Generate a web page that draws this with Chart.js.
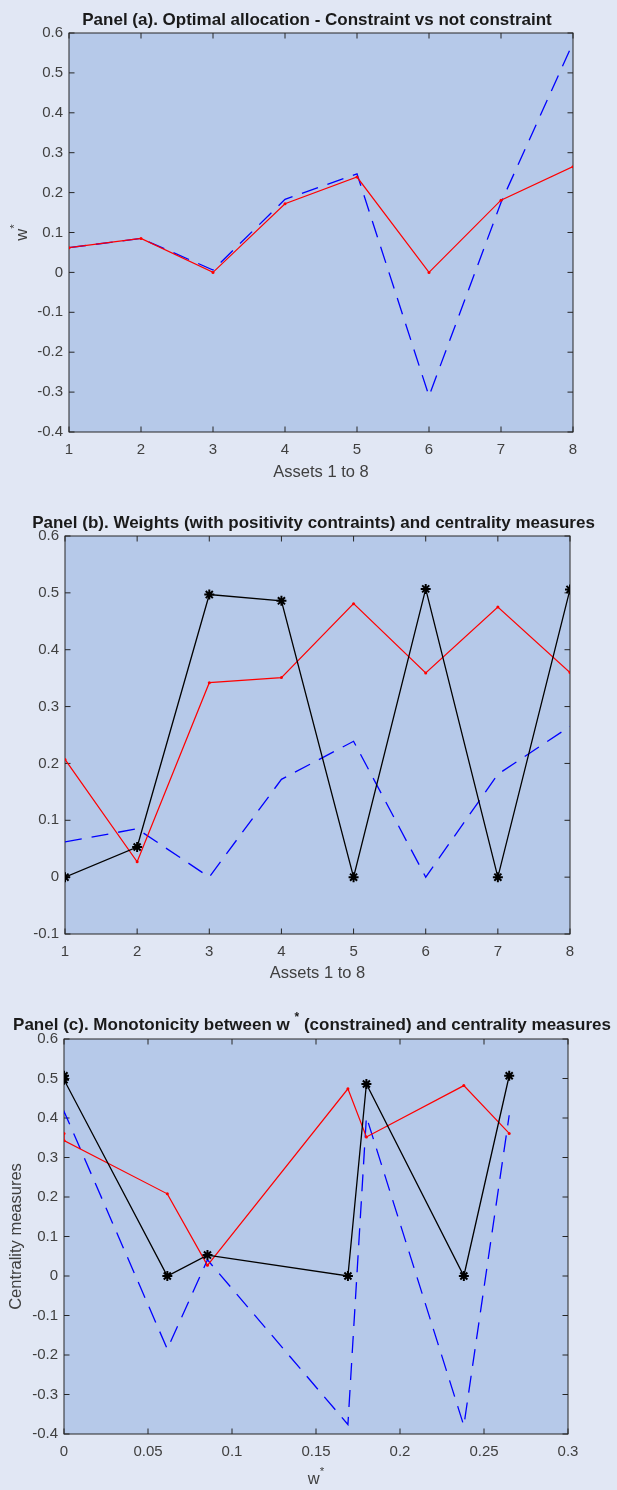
<!DOCTYPE html>
<html>
<head>
<meta charset="utf-8">
<script src="https://cdn.jsdelivr.net/npm/chart.js@4.4.0/dist/chart.umd.min.js"></script>
<style>
  body { margin: 0; background: #e1e7f4; }
  canvas { display: block; }
</style>
</head>
<body>
<canvas id="panelA" width="617" height="495"></canvas>
<canvas id="panelB" width="617" height="495"></canvas>
<canvas id="panelC" width="617" height="500"></canvas>
<script>
// values
const assets = [1, 2, 3, 4, 5, 6, 7, 8];
const wFree = [0.062, 0.085, 0.006, 0.183, 0.247, -0.31, 0.175, 0.575];
const wPos = [0.062, 0.085, 0, 0.172, 0.239, 0, 0.181, 0.265];
const centRed = [0.207, 0.027, 0.342, 0.351, 0.481, 0.359, 0.475, 0.360];
const centBlack = [0, 0.053, 0.497, 0.486, 0, 0.507, 0, 0.506];

// panel (c), points in plotting order
const wSorted = [0, 0, 0.0615, 0.0854, 0.169, 0.180, 0.238, 0.265];
const sortedRed = [0.361, 0.343, 0.208, 0.027, 0.474, 0.352, 0.482, 0.361];
const sortedBlack = [0.507, 0.497, 0, 0.053, 0, 0.486, 0, 0.507];
const sortedBlue = [0.41, 0.417, -0.185, 0.041, -0.376, 0.403, -0.379, 0.407];

// axis ranges: [min, max, step]
const xRangeAssets = [1, 8, 1];
const xRangeW = [0, 0.3, 0.05];
const yRangeA = [-0.4, 0.6, 0.1];
const yRangeB = [-0.1, 0.6, 0.1];
const yRangeC = [-0.4, 0.6, 0.1];

const FONT = "'Liberation Sans', Arial, Helvetica, sans-serif";
const TICK_COLOR = '#404040';

function pts(xs, ys) {
  return xs.map((x, i) => ({ x: x, y: ys[i] }));
}

// matlab style labels: 0, 0.05, 0.1, -0.4
function tickText(v) {
  const r = Math.round(v * 10000) / 10000;
  return (r === 0 ? 0 : r).toString();
}

// draws a string made of parts, some of them superscript, centred on (cx, cy)
function drawRich(ctx, parts, cx, cy, size, weight, color) {
  ctx.save();
  ctx.fillStyle = color;
  ctx.textBaseline = 'middle';
  ctx.textAlign = 'left';
  let total = 0;
  parts.forEach(p => {
    ctx.font = weight + ' ' + (p.sup ? size * 0.7 : size) + 'px ' + FONT;
    p.w = ctx.measureText(p.t).width;
    total += p.w;
  });
  let x = cx - total / 2;
  parts.forEach(p => {
    ctx.font = weight + ' ' + (p.sup ? size * 0.7 : size) + 'px ' + FONT;
    ctx.fillText(p.t, x, p.sup ? cy - size * 0.45 : cy);
    x += p.w;
  });
  ctx.restore();
}

const framePlugin = {
  id: 'frame',
  beforeDraw(chart) {
    const ctx = chart.ctx;
    const a = chart.chartArea;
    ctx.save();
    ctx.fillStyle = '#e1e7f4';
    ctx.fillRect(0, 0, chart.width, chart.height);
    ctx.fillStyle = '#b6c9e9';
    ctx.fillRect(a.left, a.top, a.right - a.left, a.bottom - a.top);
    ctx.restore();
  },
  beforeDatasetsDraw(chart) {
    const ctx = chart.ctx;
    const a = chart.chartArea;
    const len = 5.5;
    ctx.save();
    ctx.strokeStyle = '#262626';
    ctx.lineWidth = 1;
    ctx.beginPath();
    chart.scales.x.ticks.forEach(t => {
      const px = chart.scales.x.getPixelForValue(t.value);
      ctx.moveTo(px, a.bottom); ctx.lineTo(px, a.bottom - len);
      ctx.moveTo(px, a.top); ctx.lineTo(px, a.top + len);
    });
    chart.scales.y.ticks.forEach(t => {
      const py = chart.scales.y.getPixelForValue(t.value);
      ctx.moveTo(a.left, py); ctx.lineTo(a.left + len, py);
      ctx.moveTo(a.right, py); ctx.lineTo(a.right - len, py);
    });
    ctx.stroke();
    ctx.strokeRect(a.left, a.top, a.right - a.left, a.bottom - a.top);
    ctx.restore();
  },
  afterDraw(chart, args, opts) {
    const ctx = chart.ctx;
    const a = chart.chartArea;
    const mid = (a.left + a.right) / 2;
    drawRich(ctx, opts.title, mid - 4, opts.titleY, 17, 'bold', '#1a1a1a');
    drawRich(ctx, opts.xLabel, mid, a.bottom + opts.xLabelOff, 16.5, 'normal', TICK_COLOR);
    if (opts.yLabel) {
      ctx.save();
      ctx.translate(opts.yLabelX, (a.top + a.bottom) / 2);
      ctx.rotate(-Math.PI / 2);
      drawRich(ctx, opts.yLabel, 0, 0, 16.5, 'normal', TICK_COLOR);
      ctx.restore();
    }
  }
};

function axis(range, fit, pad) {
  return {
    type: 'linear',
    min: range[0],
    max: range[1],
    ticks: {
      stepSize: range[2],
      color: TICK_COLOR,
      font: { family: FONT, size: 15 },
      padding: pad,
      maxRotation: 0,
      autoSkip: false,
      callback: tickText
    },
    grid: { display: false, drawTicks: false },
    border: { display: false },
    afterFit: fit
  };
}

const redStyle = {
  borderColor: '#ff0000', backgroundColor: '#ff0000', borderWidth: 1.2,
  pointRadius: 1.5, pointBorderWidth: 0, pointStyle: 'circle', tension: 0
};
const blueStyle = {
  borderColor: '#0000ff', borderWidth: 1.3, borderDash: [17, 10],
  pointRadius: 0, tension: 0
};
const blackStyle = {
  borderColor: '#000000', backgroundColor: '#000000', borderWidth: 1.3,
  pointStyle: 'star', pointRadius: 5, pointBorderWidth: 2,
  pointBorderColor: '#000000', tension: 0
};

function makePanel(id, datasets, xRange, yRange, box, labels) {
  return new Chart(document.getElementById(id), {
    type: 'line',
    data: { datasets: datasets },
    options: {
      responsive: false,
      animation: false,
      events: [],
      layout: { padding: { left: 0, right: box.right, top: box.top, bottom: box.bottom } },
      plugins: {
        legend: { display: false },
        tooltip: { enabled: false },
        frame: labels
      },
      scales: {
        x: axis(xRange, sc => { sc.height = box.xh; }, 9),
        y: axis(yRange, sc => { sc.width = box.yw; }, 6)
      }
    },
    plugins: [framePlugin]
  });
}

makePanel('panelA', [
  Object.assign({ data: pts(assets, wPos) }, redStyle),
  Object.assign({ data: pts(assets, wFree) }, blueStyle)
], xRangeAssets, yRangeA,
  { right: 44, top: 33, bottom: 8, xh: 55, yw: 69 },
  {
    title: [{ t: 'Panel (a). Optimal allocation - Constraint vs not constraint' }],
    titleY: 20,
    xLabel: [{ t: 'Assets 1 to 8' }],
    xLabelOff: 40,
    yLabel: [{ t: 'w' }, { t: '*', sup: true }],
    yLabelX: 22
  });

makePanel('panelB', [
  Object.assign({ data: pts(assets, centBlack) }, blackStyle),
  Object.assign({ data: pts(assets, centRed) }, redStyle),
  Object.assign({ data: pts(assets, wPos) }, blueStyle)
], xRangeAssets, yRangeB,
  { right: 47, top: 41, bottom: 6, xh: 50, yw: 65 },
  {
    title: [{ t: 'Panel (b). Weights (with positivity contraints) and centrality measures' }],
    titleY: 28,
    xLabel: [{ t: 'Assets 1 to 8' }],
    xLabelOff: 39
  });

makePanel('panelC', [
  Object.assign({ data: pts(wSorted, sortedBlack) }, blackStyle),
  Object.assign({ data: pts(wSorted, sortedRed) }, redStyle),
  Object.assign({ data: pts(wSorted, sortedBlue) }, blueStyle)
], xRangeW, yRangeC,
  { right: 49, top: 49, bottom: 6, xh: 50, yw: 64 },
  {
    title: [
      { t: 'Panel (c). Monotonicity between w ' },
      { t: '*', sup: true },
      { t: ' (constrained) and centrality measures' }
    ],
    titleY: 35,
    xLabel: [{ t: 'w' }, { t: '*', sup: true }],
    xLabelOff: 45,
    yLabel: [{ t: 'Centrality measures' }],
    yLabelX: 16
  });
</script>
</body>
</html>
